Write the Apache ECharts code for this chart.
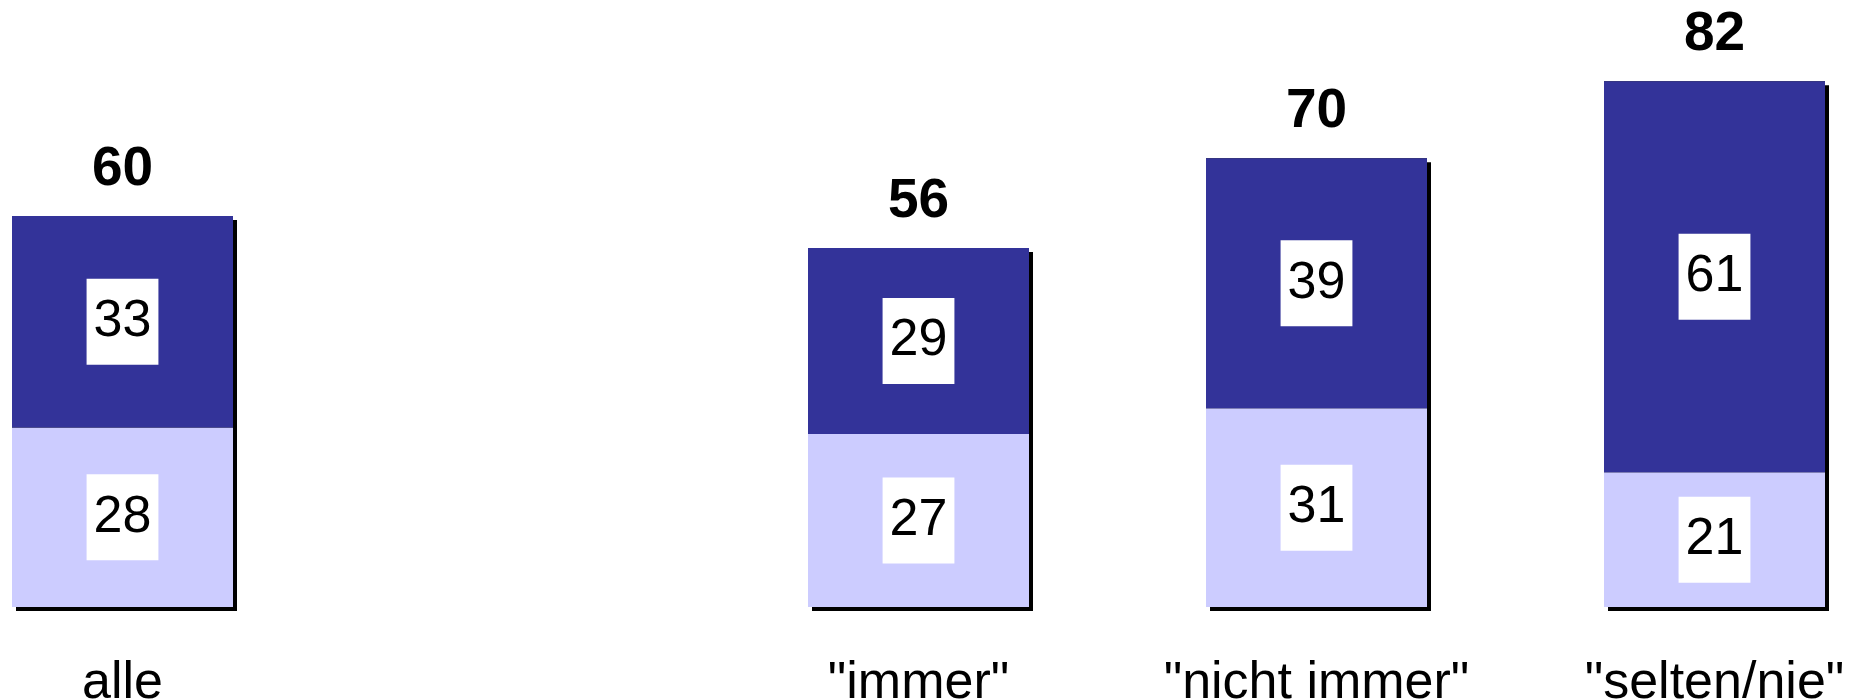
<!DOCTYPE html>
<html>
<head>
<meta charset="utf-8">
<script src="https://cdn.jsdelivr.net/npm/echarts@6/dist/echarts.min.js"></script>
<style>
html,body{margin:0;padding:0;background:#fff;}
#main{width:1859px;height:699px;}
</style>
</head>
<body>
<div id="main"></div>
<script>
const categories = ['alle', '', '"immer"', '"nicht immer"', '"selten/nie"'];
const lowerValues = [28, '-', 27, 31, 21];
const upperValues = [33, '-', 29, 39, 61];
const totalLabels = [60, '', 56, 70, 82];

const sums = lowerValues.map((v, i) => v === '-' ? '-' : v + upperValues[i]);
const zeros = lowerValues.map(v => v === '-' ? '-' : 0);

const FONT = '"Liberation Sans", Arial, sans-serif';
const innerLabel = {
  show: true,
  position: 'inside',
  color: '#000',
  fontFamily: FONT,
  fontSize: 52,
  lineHeight: 52,
  backgroundColor: '#fff',
  padding: [17, 7]
};

const chart = echarts.init(document.getElementById('main'), null, {renderer: 'canvas'});
chart.setOption({
  animation: false,
  grid: {left: 122.5, right: 144.5, top: 30, bottom: 92, outerBoundsMode: 'none', containLabel: false},
  xAxis: {
    type: 'category',
    data: categories,
    boundaryGap: false,
    axisLine: {show: false},
    axisTick: {show: false},
    splitLine: {show: false},
    axisLabel: {
      interval: 0,
      margin: 51,
      color: '#000',
      fontFamily: FONT,
      fontSize: 52
    }
  },
  yAxis: {
    type: 'value',
    min: 0,
    max: 90,
    show: false
  },
  series: [
    {
      name: 'shadow',
      type: 'bar',
      data: sums,
      barWidth: 221,
      barGap: '-100%',
      clip: false,
      z: 1,
      silent: true,
      itemStyle: {
        color: '#000',
        shadowColor: '#000',
        shadowBlur: 0,
        shadowOffsetX: 4,
        shadowOffsetY: 4
      }
    },
    {
      name: 'unten',
      type: 'bar',
      stack: 'a',
      data: lowerValues,
      barWidth: 221,
      barGap: '-100%',
      clip: false,
      z: 2,
      itemStyle: {color: '#CCCCFF'},
      label: innerLabel
    },
    {
      name: 'oben',
      type: 'bar',
      stack: 'a',
      data: upperValues,
      barWidth: 221,
      barGap: '-100%',
      clip: false,
      z: 2,
      itemStyle: {color: '#333399'},
      label: innerLabel
    },
    {
      name: 'gesamt',
      type: 'bar',
      stack: 'a',
      data: zeros,
      barWidth: 221,
      barGap: '-100%',
      clip: false,
      z: 3,
      itemStyle: {color: 'transparent'},
      label: {
        show: true,
        position: 'top',
        distance: 19,
        color: '#000',
        fontFamily: FONT,
        fontWeight: 'bold',
        fontSize: 55,
        lineHeight: 55,
        formatter: p => String(totalLabels[p.dataIndex])
      }
    }
  ]
});
</script>
</body>
</html>
